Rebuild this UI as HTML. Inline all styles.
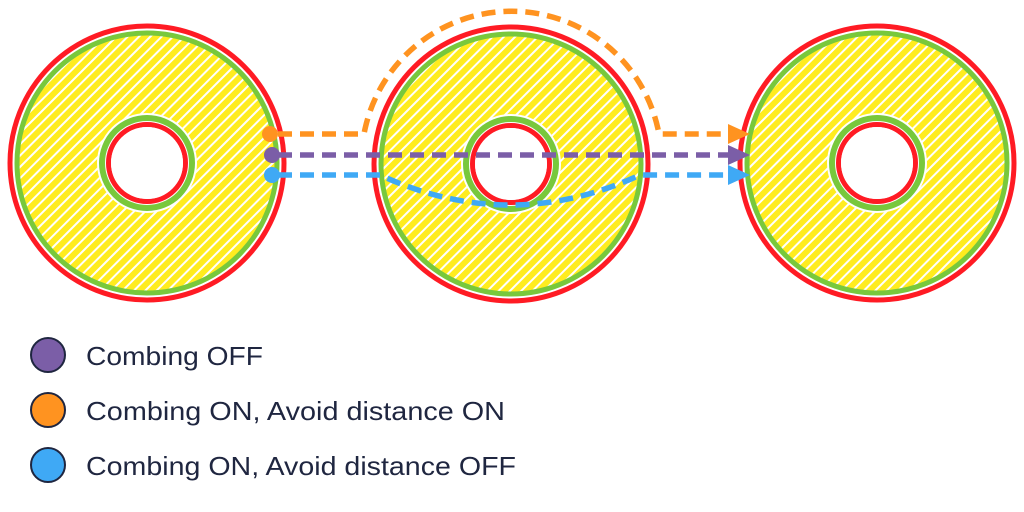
<!DOCTYPE html>
<html><head><meta charset="utf-8"><style>
html,body{margin:0;padding:0;background:#fff;}
svg{display:block;}
text{font-family:"Liberation Sans",sans-serif;font-size:26px;fill:#1f2640;}
</style></head><body>
<svg width="1024" height="512" viewBox="0 0 1024 512" xmlns="http://www.w3.org/2000/svg">
<defs>
<pattern id="h" width="8" height="8" patternUnits="userSpaceOnUse" patternTransform="rotate(45)">
<rect width="8" height="8" fill="#ffec1f"/>
<rect x="0" y="0" width="2" height="8" fill="#fff"/>
</pattern>
<g id="ring">
<circle r="89" fill="none" stroke="url(#h)" stroke-width="78"/>
<circle r="137" fill="none" stroke="#ff1b24" stroke-width="5"/>
<circle r="130" fill="none" stroke="#78c83c" stroke-width="5"/>
<circle r="45" fill="none" stroke="#78c83c" stroke-width="6"/>
<circle r="38.5" fill="none" stroke="#ff1b24" stroke-width="5"/>
<circle r="36" fill="#fff"/>
</g>
</defs>
<use href="#ring" x="147" y="163"/>
<use href="#ring" x="511" y="164"/>
<use href="#ring" x="877" y="163"/>
<g fill="none" stroke-width="5.5" stroke-dasharray="14,8">
<path d="M278 134 H364 A150 150 0 0 1 659 134 H735" stroke="#ff9320"/>
<path d="M278 155 H735" stroke="#7b5ea7"/>
<path d="M278 175 H380 Q510 235 640 175 H735" stroke="#3fa9f5"/>
</g>
<polygon points="728,124 750,134 728,144" fill="#ff9320"/>
<polygon points="728,145 750,155 728,165" fill="#7b5ea7"/>
<polygon points="728,165 750,175 728,185" fill="#3fa9f5"/>
<circle cx="270" cy="134" r="8" fill="#ff9320"/>
<circle cx="272" cy="155" r="8" fill="#7b5ea7"/>
<circle cx="272" cy="175" r="8" fill="#3fa9f5"/>
<g stroke="#1f2640" stroke-width="2">
<circle cx="48" cy="355" r="17" fill="#7b5ea7"/>
<circle cx="48" cy="410" r="17" fill="#ff9320"/>
<circle cx="48" cy="465" r="17" fill="#3fa9f5"/>
</g>
<text x="86" y="365" textLength="177" lengthAdjust="spacingAndGlyphs">Combing OFF</text>
<text x="86" y="420" textLength="419" lengthAdjust="spacingAndGlyphs">Combing ON, Avoid distance ON</text>
<text x="86" y="475" textLength="430" lengthAdjust="spacingAndGlyphs">Combing ON, Avoid distance OFF</text>
</svg>
</body></html>
